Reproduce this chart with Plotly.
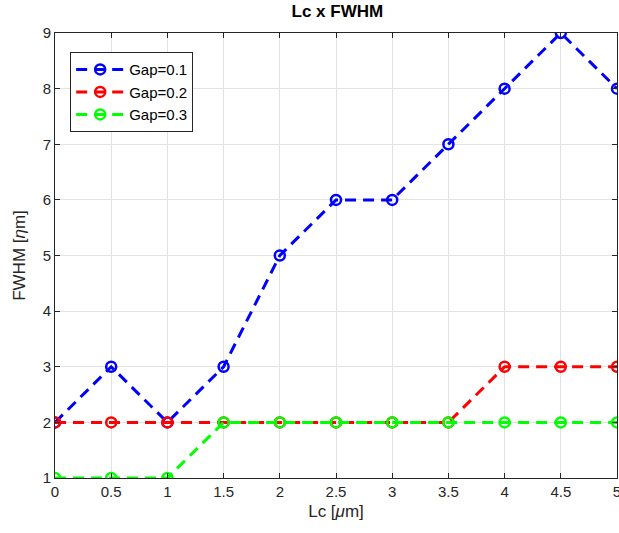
import plotly.graph_objects as go

lc = [0, 0.5, 1, 1.5, 2, 2.5, 3, 3.5, 4, 4.5, 5]
gap01 = [2, 3, 2, 3, 5, 6, 6, 7, 8, 9, 8]
gap02 = [2, 2, 2, 2, 2, 2, 2, 2, 3, 3, 3]
gap03 = [1, 1, 1, 2, 2, 2, 2, 2, 2, 2, 2]
names = ["Gap=0.1", "Gap=0.2", "Gap=0.3"]
colors = ["#0000ff", "#ff0000", "#00ff00"]
xticks = [0, 0.5, 1, 1.5, 2, 2.5, 3, 3.5, 4, 4.5, 5]
xticklabels = ["0", "0.5", "1", "1.5", "2", "2.5", "3", "3.5", "4", "4.5", "5"]
yticks = [1, 2, 3, 4, 5, 6, 7, 8, 9]

fig = go.Figure()
for ys, nm, c in zip([gap01, gap02, gap03], names, colors):
    fig.add_trace(go.Scatter(
        x=lc, y=ys, name=nm, mode="lines+markers",
        line=dict(color=c, width=3, dash="11px,7px"),
        marker=dict(symbol="circle-open", size=10, color=c, line=dict(width=2.5, color=c)),
    ))

font = "Liberation Sans, Arial, sans-serif"
axcommon = dict(
    showline=True, linecolor="#262626", linewidth=1, mirror="ticks",
    ticks="inside", ticklen=5, tickcolor="#262626",
    showgrid=True, gridcolor="#e3e3e3", gridwidth=1, zeroline=False,
    tickfont=dict(family=font, size=15, color="#262626"),
    automargin=False, ticklabeloverflow="allow",
)
fig.update_layout(
    width=619, height=533,
    paper_bgcolor="white", plot_bgcolor="white",
    margin=dict(l=55, r=2, t=33, b=55),
    title=dict(text="<b>Lc x FWHM</b>", x=0.545, xanchor="center", y=0.99, yanchor="top",
               font=dict(family=font, size=17, color="black")),
    xaxis=dict(range=[0, 5], tickvals=xticks, ticktext=xticklabels,
               title=dict(text="Lc [<i>μ</i>m]", font=dict(family=font, size=17, color="#262626"), standoff=6),
               **axcommon),
    yaxis=dict(range=[1, 9], tickvals=yticks,
               title=dict(text="FWHM [<i>η</i>m]", font=dict(family=font, size=17, color="#262626"), standoff=12),
               **axcommon),
    legend=dict(x=0.027, y=0.957, xanchor="left", yanchor="top",
                bgcolor="white", bordercolor="#262626", borderwidth=1,
                font=dict(family=font, size=15, color="black"),
                tracegroupgap=0, itemwidth=48),
    showlegend=True,
)
fig.write_html("out.html", config={"displayModeBar": False},
               post_script="document.body.style.margin='0';document.body.style.overflow='hidden';")
